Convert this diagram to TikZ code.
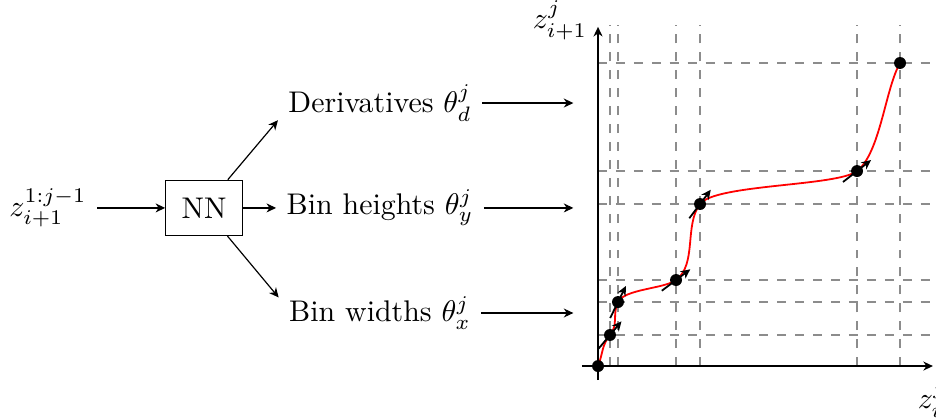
\documentclass[tikz,border=0pt]{standalone}
\usepackage{xcolor}
\usepackage{tikz}
\usetikzlibrary{positioning, arrows.meta, calc}
\definecolor{splinered}{HTML}{FF0000}
\definecolor{gridgray}{HTML}{8C8C8C}

\tikzset{
  tip/.style={-{Stealth[length=3.2pt, width=3pt, inset=1pt]}},
  flowarrow/.style={tip},
  netbox/.style={draw, minimum width=0.9cm, minimum height=0.65cm},
  gridline/.style={gridgray, dashed},
  axisline/.style={tip, thick},
  knot/.style={circle, fill=black, inner sep=0pt, minimum size=4pt},
  tangent/.style={tip, semithick},
}

\begin{document}
\begin{tikzpicture}
  \useasboundingbox (-7.035,-0.624) rectangle (3.976,4.306);

  % network part
  \node (zin) at (-6.47,1.86) {$z_{i+1}^{1:j-1}$};
  \node[netbox] (nn) at (-4.635,1.86) {NN};
  \node (hgt) at (-2.565,1.86) {Bin heights $\theta_y^j$};
  \node (der) at (-2.565,3.094) {Derivatives $\theta_d^j$};
  \node (wid) at (-2.565,0.624) {Bin widths $\theta_x^j$};
  \coordinate (derin) at (-0.29,3.094);
  \coordinate (hgtin) at (-0.29,1.86);
  \coordinate (widin) at (-0.29,0.624);

  \draw[flowarrow] (zin) -- (nn);
  \draw[flowarrow] (nn) -- (hgt);
  \draw[flowarrow] (nn) -- ([yshift=4pt]der.south west);
  \draw[flowarrow] (nn) -- ([yshift=-3.7pt]wid.north west);
  \draw[flowarrow] (der) -- (derin);
  \draw[flowarrow] (hgt) -- (hgtin);
  \draw[flowarrow] (wid) -- (widin);

  % spline plot
  \coordinate (o) at (0,0);
  \coordinate (top) at (0,4.01);
  \coordinate (right) at (4.0,0);
  \coordinate (p0) at (0,0);
  \coordinate (p1) at (0.141,0.365);
  \coordinate (p2) at (0.235,0.753);
  \coordinate (p3) at (0.918,1.012);
  \coordinate (p4) at (1.2,1.906);
  \coordinate (p5) at (3.047,2.294);
  \coordinate (p6) at (3.553,3.565);

  \foreach \i in {1,...,6} {
    \draw[gridline] (p\i |- o) -- (p\i |- top);
    \draw[gridline] (p\i -| o) -- (p\i -| right);
  }

  \draw[axisline] (-0.19,0) -- (3.94,0);
  \draw[axisline] (0,-0.165) -- (0,3.99);
  \node at (4.08,-0.4) {$z_{i+1}^j$};
  \node at (-0.447,4.07) {$z_{i+1}^j$};

  \draw[splinered, semithick] (p0) to[out=68, in=230] (p1)
    to[out=50, in=244] (p2)
    to[out=64, in=217, looseness=0.6] (p3)
    to[out=37, in=233, looseness=0.85] (p4)
    to[out=53, in=218, looseness=0.4] (p5)
    to[out=38, in=240, looseness=0.65] (p6);

  \draw[tangent] ($(p1)+(230:0.21)$) -- ($(p1)+(50:0.21)$);
  \draw[tangent] ($(p2)+(244:0.21)$) -- ($(p2)+(64:0.21)$);
  \draw[tangent] ($(p3)+(217:0.21)$) -- ($(p3)+(37:0.21)$);
  \draw[tangent] ($(p4)+(233:0.21)$) -- ($(p4)+(53:0.21)$);
  \draw[tangent] ($(p5)+(218:0.21)$) -- ($(p5)+(38:0.21)$);

  \foreach \i in {0,...,6}
    \node[knot] (k\i) at (p\i) {};
\end{tikzpicture}
\end{document}
